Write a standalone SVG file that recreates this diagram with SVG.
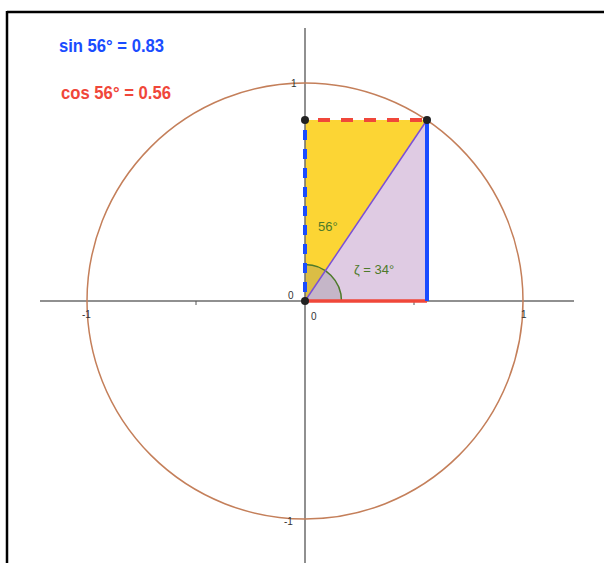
<svg xmlns="http://www.w3.org/2000/svg" width="604" height="563" viewBox="0 0 604 563">
<style>
.ax{stroke:#6b6b6b;stroke-width:1.5;fill:none}
.lbl{font-family:"Liberation Sans",Arial,sans-serif;font-size:10px;fill:#333}
.ang{font-family:"Liberation Sans",Arial,sans-serif;font-size:13px;fill:#4d7a2a}
.big{font-family:"Liberation Sans",Arial,sans-serif;font-size:18px;font-weight:bold}
.pt{fill:#222}
</style>
<rect width="604" height="563" fill="#fff"/>
<g id="frame">
<line x1="7" y1="12" x2="604" y2="12" stroke="#000" stroke-width="2.5"/>
<line x1="7" y1="11" x2="7" y2="563" stroke="#000" stroke-width="2.5"/>
</g>
<g id="regions">
<polygon id="yellow" points="305,120 427,120 305,301" fill="#fcd534"/>
<polygon id="lavender" points="305,301 427,120 427,301" fill="#dfcbe3"/>
</g>
<g id="axes">
<line class="ax" x1="40" y1="301" x2="574" y2="301"/>
<line class="ax" x1="305" y1="28" x2="305" y2="563"/>
<line x1="196" y1="301" x2="196" y2="305" stroke="#555" stroke-width="1"/>
<line x1="414" y1="301" x2="414" y2="305" stroke="#555" stroke-width="1"/>
</g>
<g id="circle">
<circle cx="305" cy="301" r="218" fill="none" stroke="#c47f5a" stroke-width="1.5"/>
</g>
<g id="sector">
<path d="M305,301 L341.5,301 A36.5,36.5 0 0 0 305,264.5 Z" fill="#777" fill-opacity="0.25"/>
<path d="M341.5,301 A36.5,36.5 0 0 0 305,264.5" fill="none" stroke="#4d7a2a" stroke-width="1.5"/>
</g>
<g id="connectors">
<line id="hyp" x1="305" y1="301" x2="427" y2="120" stroke="#7b50d6" stroke-width="1.5"/>
<line id="cos-solid" x1="305" y1="301" x2="427" y2="301" stroke="#f0473a" stroke-width="3.5"/>
<line id="sin-solid" x1="427" y1="120" x2="427" y2="301" stroke="#1a4cff" stroke-width="4"/>
<line id="sin-dash" x1="305" y1="301" x2="305" y2="120" stroke="#1a4cff" stroke-width="4" stroke-dasharray="10 9" stroke-dashoffset="10"/>
<line id="cos-dash" x1="305" y1="120" x2="427" y2="120" stroke="#f0473a" stroke-width="4" stroke-dasharray="12 11" stroke-dashoffset="10"/>
</g>
<g id="points">
<circle class="pt" cx="305" cy="120" r="4"/>
<circle class="pt" cx="427" cy="120" r="4"/>
<circle class="pt" cx="305" cy="301" r="4"/>
</g>
<g id="axis-labels">
<text class="lbl" x="291" y="87">1</text>
<text class="lbl" x="82" y="318">-1</text>
<text class="lbl" x="521" y="318">1</text>
<text class="lbl" x="284" y="525">-1</text>
<text class="lbl" x="288" y="299">0</text>
<text class="lbl" x="311" y="320">0</text>
</g>
<g id="angle-labels">
<text class="ang" x="318" y="231">56°</text>
<text class="ang" x="354" y="274">ζ = 34°</text>
</g>
<g id="values">
<text class="big" x="59" y="52" fill="#1a4cff" textLength="105" lengthAdjust="spacingAndGlyphs">sin 56° = 0.83</text>
<text class="big" x="61" y="99" fill="#f0473a" textLength="110" lengthAdjust="spacingAndGlyphs">cos 56° = 0.56</text>
</g>
</svg>
